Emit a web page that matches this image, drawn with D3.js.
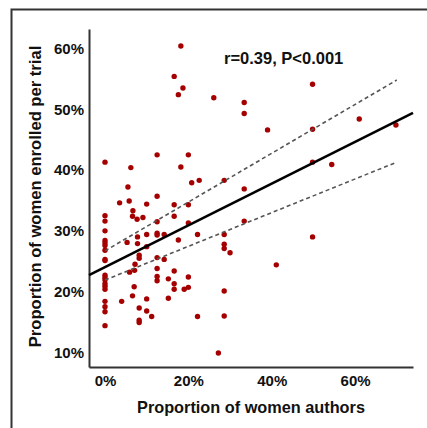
<!DOCTYPE html>
<html>
<head>
<meta charset="utf-8">
<script src="https://cdn.jsdelivr.net/npm/d3@7"></script>
<style>
  body { margin: 0; background: #fff; }
  text { font-family: "Liberation Sans", Arial, sans-serif; font-weight: bold; fill: #111; }
</style>
</head>
<body>
<div id="chart"></div>
<script>
// values (percent)
const authors = [
  0,0,0,0,0,0,0,0,0,0,0,0,0,0,0,0,0,0,0,0,
  3.5,4.0,5.3,5.5,5.8,6.2,5.9,6.7,6.6,7.2,
  7.1,7.0,6.6,7.7,7.8,7.8,9.1,8.2,8.2,8.2,
  8.2,8.2,10.0,10.0,10.0,10.0,10.0,11.2,12.5,12.5,
  12.5,12.5,12.5,12.5,12.5,12.5,12.5,14.2,14.2,15.2,
  15.2,16.6,16.6,16.6,16.6,16.6,16.6,17.6,18.2,18.7,
  18.2,17.6,19.0,20.0,20.0,20.0,20.0,20.0,20.8,22.6,
  22.2,22.2,26.1,27.2,28.6,28.6,28.6,28.6,30.0,28.6,
  28.6,33.4,33.4,33.4,33.4,39.0,41.1,49.8,49.8,49.8,
  49.8,54.4,61.0,69.8
];
const enrolled = [
  41.3,32.5,31.6,30.0,28.4,28.0,27.6,26.8,25.3,25.1,22.7,22.3,21.9,21.3,20.9,20.4,18.4,17.5,16.7,14.4,
  34.6,18.4,28.1,37.2,34.9,40.4,23.2,33.3,32.4,24.5,
  23.5,20.8,19.3,31.9,29.0,27.9,32.2,26.0,25.5,17.3,
  15.3,14.9,34.4,29.4,27.4,18.8,16.8,15.9,42.5,35.7,
  31.5,29.6,29.3,25.6,23.8,22.5,21.8,29.4,25.3,22.1,
  18.9,34.3,32.4,23.4,21.3,20.4,55.4,52.4,60.4,53.5,
  40.5,28.5,20.4,42.5,34.3,31.3,22.4,20.7,37.9,38.3,
  29.4,15.9,51.9,9.9,38.3,29.4,27.8,27.1,26.4,20.1,
  16.0,51.1,49.3,36.9,31.6,46.6,24.4,54.1,46.7,41.3,
  29.0,40.9,48.4,47.4
];

// regression line and its dashed bounds
const fitX = [-3.84, 73.9];
const fitY = [22.7, 49.4];
const ciX = [0, 70];
const ciUpper = [26.7, 54.8];
const ciLower = [21.9, 41.3];

const xTicks = [0, 20, 40, 60];
const yTicks = [10, 20, 30, 40, 50, 60];
const statLabel = "r=0.39, P<0.001";

const W = 427, H = 428;
const plot = { left: 89, right: 413, top: 29, bottom: 367 };

const svg = d3.select("#chart")
    .append("svg")
    .attr("width", W)
    .attr("height", H);

// outer frame (only top/left edges are visible)
svg.append("rect")
    .attr("x", 11.5).attr("y", 9.5)
    .attr("width", 600).attr("height", 600)
    .attr("fill", "none")
    .attr("stroke", "#333")
    .attr("stroke-width", 2);

const x = d3.scaleLinear().domain([-3.84, 73.9]).range([plot.left, plot.right]);
const y = d3.scaleLinear().domain([7.6, 63.2]).range([plot.bottom, plot.top]);

const fmt = d => d + "%";

const yAxis = svg.append("g")
    .attr("transform", `translate(${plot.left},0)`)
    .call(d3.axisLeft(y).tickValues(yTicks).tickFormat(fmt).tickSize(0).tickSizeOuter(0).tickPadding(5));
yAxis.selectAll("text").style("font-size", "15px");

const xAxis = svg.append("g")
    .attr("transform", `translate(0,${plot.bottom})`)
    .call(d3.axisBottom(x).tickValues(xTicks).tickFormat(fmt).tickSize(0).tickSizeOuter(0).tickPadding(8));
xAxis.selectAll("text").style("font-size", "15px");

svg.selectAll(".domain")
    .attr("stroke", "#333")
    .attr("stroke-width", 2);

// points
const pts = authors.map((a, i) => ({ a: a, e: enrolled[i] }));
svg.append("g")
    .selectAll("circle")
    .data(pts)
    .join("circle")
    .attr("cx", d => x(d.a))
    .attr("cy", d => y(d.e))
    .attr("r", 2.7)
    .attr("fill", "#a50000");

const line = d3.line().x(d => x(d[0])).y(d => y(d[1]));

// dashed bounds
[ciUpper, ciLower].forEach(s => {
    svg.append("path")
        .datum(ciX.map((v, i) => [v, s[i]]))
        .attr("d", line)
        .attr("fill", "none")
        .attr("stroke", "#555")
        .attr("stroke-width", 1.6)
        .attr("stroke-dasharray", "4,3");
});

// fit
svg.append("path")
    .datum(fitX.map((v, i) => [v, fitY[i]]))
    .attr("d", line)
    .attr("fill", "none")
    .attr("stroke", "#000")
    .attr("stroke-width", 2.6);

svg.append("text")
    .attr("x", 224)
    .attr("y", 63.5)
    .style("font-size", "16.5px")
    .text(statLabel);

svg.append("text")
    .attr("x", (plot.left + plot.right) / 2)
    .attr("y", 413)
    .attr("text-anchor", "middle")
    .style("font-size", "16.3px")
    .text("Proportion of women authors");

svg.append("text")
    .attr("transform", "translate(41,196.5) rotate(-90)")
    .attr("text-anchor", "middle")
    .style("font-size", "16.6px")
    .text("Proportion of women enrolled per trial");
</script>
</body>
</html>
